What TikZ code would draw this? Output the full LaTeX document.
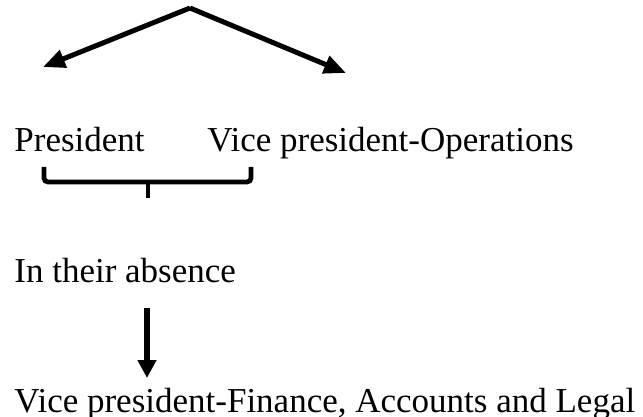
\documentclass[tikz,border=0pt]{standalone}
\usepackage{fontspec}
\setmainfont{Liberation Serif}
\usetikzlibrary{arrows.meta,positioning,calc}

\begin{document}
\begin{tikzpicture}[x=0.5pt,y=-0.5pt,
	lbl/.style={anchor=base west,inner sep=0pt,font=\fontsize{17.5}{21}\selectfont}]
	\useasboundingbox (0,0) rectangle (643,417);
	\node[lbl] (pres) at (14,152) {President};
	\node[lbl] (vpops) at (207,152) {Vice president-Operations};
	\node[lbl] (absence) at (14,282) {In their absence};
	\node[lbl] (vpfin) at (14,412) {Vice president-Finance, Accounts and Legal};
	\coordinate (apex) at (190,8);
	\coordinate (ltip) at (43,67);
	\coordinate (rtip) at (346,73);
	\draw [line width =2.5pt,-{Triangle[length=11pt,width=9pt]}] (apex) -- (ltip);
	\draw [line width =2.5pt,-{Triangle[length=11pt,width=9pt]}] (apex) -- (rtip);
	% brace under the two names
	\draw [line width =2.4pt,rounded corners=2pt] (44,167) -- (44,182) -- (251,182) -- (251,167);
	\draw [line width =2.4pt] (148,182) -- (148,198);
	\coordinate (dtop) at (147,308);
	\coordinate (dbot) at (147,378);
	\draw [line width =2.6pt,-{Triangle[length=9pt,width=9pt]}] (dtop) -- (dbot);
\end{tikzpicture}
\end{document}
